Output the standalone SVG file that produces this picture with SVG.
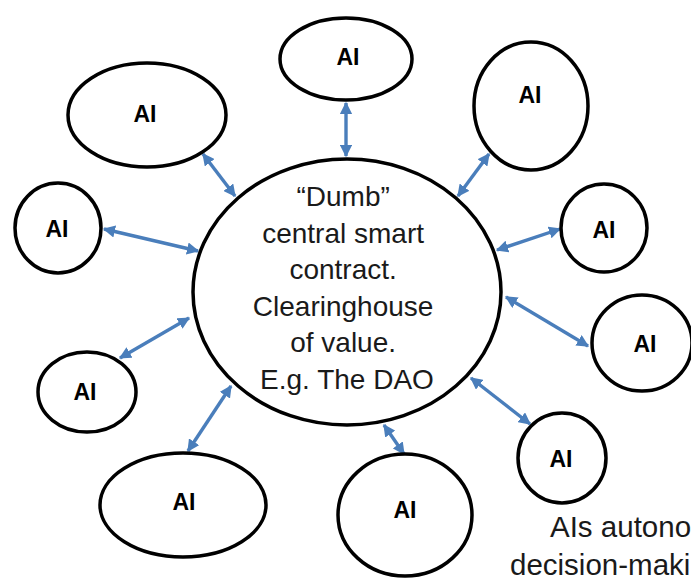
<svg xmlns="http://www.w3.org/2000/svg" width="691" height="585" viewBox="0 0 691 585">
<style>
.node{fill:#fff;stroke:#000;stroke-width:3.5}
.ai{font-family:"Liberation Sans",Arial,sans-serif;font-weight:bold;font-size:23px;text-anchor:middle;fill:#000}
.body{font-family:"Liberation Sans",Arial,sans-serif;font-size:28px;fill:#1a1a1a}
.cap{font-size:29.5px}
.conn line{stroke:#4a7ebb;stroke-width:3.4;marker-start:url(#ah);marker-end:url(#ah)}
</style>
<defs>
<marker id="ah" viewBox="0 0 10 10" refX="9" refY="5" markerWidth="3.6" markerHeight="3.6" orient="auto-start-reverse" markerUnits="strokeWidth">
<path d="M0,0 L10,5 L0,10 z" fill="#4a7ebb"/>
</marker>
</defs>
<rect width="691" height="585" fill="#fff"/>
<g id="connectors" class="conn">
<line x1="346" y1="103" x2="346" y2="156"/>
<line x1="203" y1="154" x2="235" y2="196"/>
<line x1="104" y1="229" x2="198" y2="251"/>
<line x1="489" y1="154" x2="458" y2="196"/>
<line x1="560" y1="229" x2="497" y2="250"/>
<line x1="506" y1="297" x2="588" y2="346"/>
<line x1="471" y1="378" x2="530" y2="424"/>
<line x1="384" y1="425" x2="404" y2="454"/>
<line x1="188" y1="451" x2="231" y2="386"/>
<line x1="120" y1="358" x2="189" y2="318"/>
</g>
<g id="center">
<ellipse class="node" cx="347" cy="292" rx="154" ry="133"/>
<text class="body" text-anchor="middle">
<tspan x="347" y="206">“Dumb”</tspan>
<tspan x="347" y="243">central smart</tspan>
<tspan x="347" y="279">contract.</tspan>
<tspan x="347" y="316">Clearinghouse</tspan>
<tspan x="347" y="352">of value.</tspan>
<tspan x="347" y="389">E.g. The DAO</tspan>
</text>
</g>
<g id="ai-top"><ellipse class="node" cx="346" cy="59" rx="66" ry="41"/><text class="ai" x="348" y="65">AI</text></g>
<g id="ai-top-left"><ellipse class="node" cx="147" cy="115" rx="79" ry="52"/><text class="ai" x="145" y="122">AI</text></g>
<g id="ai-left"><ellipse class="node" cx="58" cy="228" rx="43" ry="45"/><text class="ai" x="57" y="237">AI</text></g>
<g id="ai-top-right"><ellipse class="node" cx="531" cy="106" rx="57" ry="64"/><text class="ai" x="530" y="103">AI</text></g>
<g id="ai-right"><ellipse class="node" cx="604" cy="228" rx="43" ry="44"/><text class="ai" x="604" y="238">AI</text></g>
<g id="ai-right-2"><ellipse class="node" cx="642" cy="343" rx="50" ry="48"/><text class="ai" x="645" y="352">AI</text></g>
<g id="ai-lower-right"><ellipse class="node" cx="562" cy="458" rx="44" ry="45"/><text class="ai" x="561" y="467">AI</text></g>
<g id="ai-bottom"><ellipse class="node" cx="405" cy="515" rx="67" ry="61"/><text class="ai" x="405" y="518">AI</text></g>
<g id="ai-bottom-left"><ellipse class="node" cx="183" cy="505" rx="83" ry="52"/><text class="ai" x="184" y="510">AI</text></g>
<g id="ai-left-lower"><ellipse class="node" cx="87" cy="392" rx="49" ry="40"/><text class="ai" x="85" y="400">AI</text></g>
<g id="caption">
<text class="body cap" x="550" y="537">AIs autono</text>
<text class="body cap" x="510" y="575">decision-maki</text>
</g>
</svg>
